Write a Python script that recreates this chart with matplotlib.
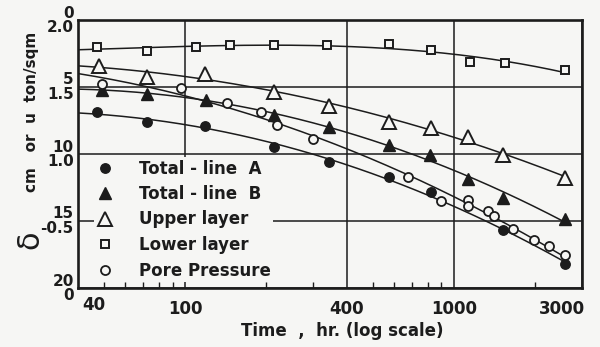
import numpy as np
import matplotlib
matplotlib.use('Agg')
import matplotlib.pyplot as plt
from matplotlib.ticker import FixedLocator, FixedFormatter, NullFormatter
import matplotlib.transforms as mtransforms
from matplotlib.lines import Line2D

# ---------------- data ----------------
t_lower = [47, 72, 110, 147, 215, 339, 572, 821, 1148, 1550, 2596]
s_lower = [2.0, 2.3, 2.0, 1.9, 1.9, 1.85, 1.8, 2.25, 3.15, 3.2, 3.75]

t_upper = [48, 72, 119, 215, 342, 572, 821, 1128, 1524, 2596]
s_upper = [3.4, 4.25, 4.0, 5.35, 6.4, 7.6, 8.05, 8.7, 10.05, 11.8]

t_totB = [49, 72, 120, 215, 342, 572, 816, 1128, 1524, 2596]
s_totB = [5.2, 5.5, 5.95, 7.1, 8.0, 9.3, 10.05, 11.85, 13.3, 14.85]

t_totA = [47, 72, 119, 215, 342, 575, 821, 1524, 2596]
s_totA = [6.85, 7.6, 7.9, 9.5, 10.6, 11.7, 12.85, 15.65, 18.2]

t_pore = [49, 97, 143, 192, 220, 300, 673, 894, 1128, 1128, 1340, 1410, 1660, 1990, 2260, 2596]
u_pore = [1.52, 1.49, 1.38, 1.31, 1.22, 1.11, 0.83, 0.65, 0.66, 0.61, 0.575, 0.54, 0.44, 0.36, 0.31, 0.25]

x_ticks = [40, 100, 400, 1000, 3000]
x_ticklabels = ['40', '100', '400', '1000', '3000']
s_ticks = [0, 5, 10, 15, 20]
s_ticklabels = ['0', '5', '10', '15', '20']          # settlement, cm
u_ticklabels = ['2.0', '1.5', '1.0', '-0.5', '0']    # pore pressure, ton/sqm
x_minor = [50, 60, 70, 80, 90, 200, 300, 500, 600, 700, 800, 900, 2000]

legend_labels = ['Total - line  A', 'Total - line  B', 'Upper layer', 'Lower layer', 'Pore Pressure']

# ---------------- style ----------------
BG = '#f6f6f4'
INK = '#1c1c1c'
FONT = 'DejaVu Sans'
plt.rcParams['font.family'] = [FONT]

def u_to_s(u):
    return (2.0 - np.asarray(u, dtype=float)) * 10.0

fig = plt.figure(figsize=(6.0, 3.47), dpi=100, facecolor=BG)
ax = fig.add_axes([78/600, 1-288/347, 504/600, 268/347], facecolor=BG)
ax.set_xscale('log')
ax.set_xlim(40, 3000)
ax.set_ylim(20, 0)

def smooth_curve(t, s, deg):
    lt = np.log10(t)
    coef = np.polyfit(lt, s, deg)
    xx = np.linspace(np.log10(40), lt.max(), 200)
    return 10**xx, np.polyval(coef, xx)

lw = 1.1
series = [
    (t_totA, s_totA, 2, dict(marker='o', ms=6.8, mfc=INK, mec=INK, mew=1.0)),
    (t_totB, s_totB, 2, dict(marker='^', ms=8.5, mfc=INK, mec=INK, mew=1.0)),
    (t_upper, s_upper, 2, dict(marker='^', ms=10, mfc=BG, mec=INK, mew=1.4)),
    (t_lower, s_lower, 3, dict(marker='s', ms=6.3, mfc=BG, mec=INK, mew=1.4)),
    (t_pore, list(u_to_s(u_pore)), 2, dict(marker='o', ms=6.5, mfc=BG, mec=INK, mew=1.3)),
]
handles = []
for t, s, deg, mk in series:
    xc, yc = smooth_curve(np.array(t, float), np.array(s, float), deg)
    ax.plot(xc, yc, color=INK, lw=lw, zorder=3)
    ax.plot(t, s, linestyle='none', zorder=4, **mk)
    handles.append(Line2D([], [], linestyle='none', **mk))

# grid & ticks
ax.xaxis.set_major_locator(FixedLocator(x_ticks))
ax.xaxis.set_major_formatter(FixedFormatter(x_ticklabels))
ax.xaxis.set_minor_locator(FixedLocator(x_minor))
ax.xaxis.set_minor_formatter(NullFormatter())
ax.yaxis.set_major_locator(FixedLocator(s_ticks))
ax.yaxis.set_major_formatter(FixedFormatter(
    [f'{c}\n{u}' for c, u in zip(s_ticklabels, u_ticklabels)]))
ax.grid(True, which='major', color=INK, lw=1.1, zorder=1)
ax.tick_params(axis='x', which='major', length=0, pad=9, labelsize=12)
ax.tick_params(axis='x', which='minor', direction='in', length=4, width=1.0, color=INK)
ax.tick_params(axis='y', which='major', length=0, pad=3, labelsize=11)
for lab in ax.get_xticklabels():
    lab.set_fontweight('bold')
    lab.set_color(INK)
xl = ax.get_xticklabels()
xl[0].set_ha('left')
xl[0].set_transform(xl[0].get_transform() + mtransforms.ScaledTranslation(4/100, 4/100, fig.dpi_scale_trans))
xl[-1].set_ha('right')
xl[-1].set_transform(xl[-1].get_transform() + mtransforms.ScaledTranslation(3/100, 0, fig.dpi_scale_trans))

off = mtransforms.ScaledTranslation(0, 1/100, fig.dpi_scale_trans)
for lab in ax.get_yticklabels():
    lab.set_fontweight('bold')
    lab.set_color(INK)
    lab.set_linespacing(0.95)
    lab.set_multialignment('right')
    lab.set_transform(lab.get_transform() + off)

for sp in ax.spines.values():
    sp.set_linewidth(1.9)
    sp.set_color(INK)

# axis titles
ax.set_xlabel('Time  ,  hr. (log scale)', fontsize=12, fontweight='bold', color=INK)
ax.xaxis.set_label_coords((342-78)/504, (288-322)/268)
fig.text(32/600, 1-112/347, 'cm   or  u  ton/sqm', rotation=90, ha='center', va='center',
         fontsize=11, fontweight='bold', color=INK)
fig.text(30/600, 1-240/347, 'δ', rotation=90, ha='center', va='center',
         fontsize=22, color=INK)

leg = ax.legend(handles, legend_labels, loc='upper left',
                bbox_to_anchor=((94-78)/504, (288-157)/268), borderaxespad=0,
                frameon=True, facecolor=BG, edgecolor='none', framealpha=1.0,
                fancybox=False, borderpad=0.15, handlelength=1.0, handletextpad=1.55,
                labelspacing=0.45, prop={'family': FONT, 'size': 12, 'weight': 'bold'})
leg.set_zorder(5)
for txt in leg.get_texts():
    txt.set_color(INK)

fig.savefig('out.png', dpi=100, facecolor=BG)
